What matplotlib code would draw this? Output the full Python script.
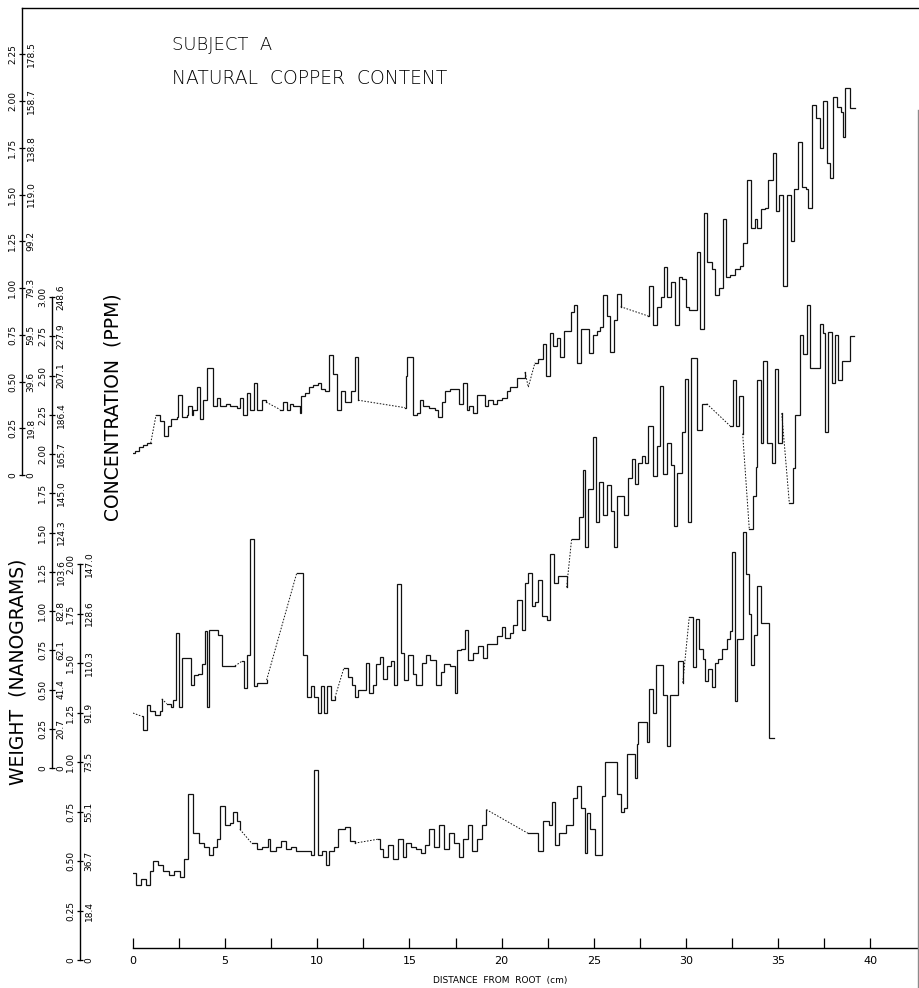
import matplotlib.pyplot as plt
from matplotlib.lines import Line2D

plt.rcParams['font.family'] = ['DejaVu Sans']

# Hair copper profiles, subject A.
# Each trace is a run of steps: *_x = distance from root where a segment starts (cm),
# *_w = copper weight of that segment (ng); *_end closes the last step.
top_x = [0.00, 0.11, 0.34, 0.56, 0.74, 0.96, 1.25, 1.46, 1.70, 1.88, 2.06, 2.40, 2.46, 2.64,
         2.91, 3.00, 3.18, 3.27, 3.46, 3.64, 3.81, 4.03, 4.36, 4.54, 4.72, 5.05, 5.26, 5.63,
         5.81, 5.98, 6.20, 6.35, 6.58, 6.74, 6.98, 7.22, 7.98, 8.16, 8.34, 8.52, 8.70, 9.06,
         9.12, 9.33, 9.57, 9.78, 10.05, 10.20, 10.42, 10.65, 10.87, 11.05, 11.27, 11.50, 11.81,
         12.05, 12.22, 14.76, 14.81, 14.89, 15.18, 15.39, 15.57, 15.75, 16.08, 16.39, 16.57,
         16.75, 16.93, 17.20, 17.70, 17.92, 18.11, 18.25, 18.43, 18.68, 19.10, 19.28, 19.52,
         19.73, 20.01, 20.28, 20.46, 20.82, 21.27, 21.45, 21.81, 21.99, 22.23, 22.41, 22.63,
         22.81, 22.99, 23.17, 23.39, 23.75, 23.93, 24.11, 24.29, 24.76, 24.94, 25.16, 25.34,
         25.52, 25.74, 25.88, 26.10, 26.25, 26.46, 27.96, 28.01, 28.23, 28.45, 28.63, 28.81,
         28.99, 29.18, 29.41, 29.63, 29.80, 29.99, 30.18, 30.59, 30.76, 30.98, 31.16, 31.40,
         31.58, 31.81, 32.00, 32.18, 32.40, 32.66, 32.93, 33.11, 33.33, 33.52, 33.75, 33.87,
         34.06, 34.29, 34.47, 34.71, 34.89, 35.07, 35.28, 35.50, 35.69, 35.87, 36.10, 36.28,
         36.52, 36.64, 36.83, 37.06, 37.28, 37.42, 37.64, 37.82, 37.96, 38.18, 38.40, 38.51,
         38.63, 38.90]
top_w = [0.12, 0.13, 0.15, 0.16, 0.17, 0.17, 0.32, 0.29, 0.21, 0.26, 0.30, 0.31, 0.43, 0.31,
         0.32, 0.37, 0.32, 0.35, 0.47, 0.30, 0.40, 0.57, 0.37, 0.41, 0.37, 0.38, 0.37, 0.36,
         0.41, 0.32, 0.44, 0.35, 0.49, 0.35, 0.40, 0.39, 0.35, 0.39, 0.35, 0.38, 0.37, 0.33,
         0.42, 0.44, 0.47, 0.48, 0.49, 0.46, 0.45, 0.64, 0.54, 0.35, 0.45, 0.39, 0.45,
         0.63, 0.40, 0.36, 0.53, 0.63, 0.32, 0.33, 0.40, 0.37, 0.36, 0.35, 0.31,
         0.39, 0.45, 0.46, 0.38, 0.49, 0.35, 0.37, 0.33, 0.43, 0.37, 0.40, 0.38,
         0.40, 0.41, 0.45, 0.47, 0.52, 0.55, 0.47, 0.60, 0.62, 0.70, 0.53, 0.76,
         0.69, 0.73, 0.63, 0.77, 0.87, 0.91, 0.60, 0.78, 0.65, 0.75, 0.77, 0.79,
         0.96, 0.85, 0.66, 0.83, 0.97, 0.90, 0.85, 1.01, 0.80, 0.90, 0.95, 1.11,
         0.95, 1.03, 0.80, 1.06, 1.05, 0.90, 0.88, 1.19, 0.78, 1.40, 1.14, 1.10,
         0.96, 1.00, 1.37, 1.06, 1.07, 1.10, 1.12, 1.24, 1.58, 1.32, 1.37, 1.32,
         1.42, 1.43, 1.58, 1.72, 1.41, 1.50, 1.01, 1.50, 1.25, 1.53, 1.78, 1.54,
         1.53, 1.43, 1.98, 1.91, 1.75, 2.00, 1.67, 1.59, 2.02, 1.97, 1.94, 1.81,
         2.07, 1.96]
top_end = 39.17
top_dotted = [0.96, 7.22, 12.22, 21.27, 21.45, 26.46]

mid_x = [0.00, 0.47, 0.53, 0.74, 0.92, 1.19, 1.46, 1.56, 1.83, 2.05, 2.15, 2.32, 2.51, 2.64,
         3.13, 3.31, 3.54, 3.73, 3.91, 4.03, 4.14, 4.61, 4.81, 5.53, 5.91, 6.02, 6.17, 6.35,
         6.57, 6.71, 7.25, 8.88, 9.24, 9.46, 9.64, 9.82, 10.05, 10.18, 10.36, 10.51, 10.73,
         10.96, 11.45, 11.68, 11.87, 12.05, 12.22, 12.64, 12.82, 13.01, 13.18, 13.40, 13.58,
         13.77, 13.98, 14.16, 14.31, 14.53, 14.70, 14.94, 15.18, 15.36, 15.66, 15.90, 16.11,
         16.44, 16.70, 16.87, 17.20, 17.47, 17.60, 17.78, 18.01, 18.19, 18.46, 18.74, 18.97,
         19.19, 19.73, 20.01, 20.18, 20.46, 20.63, 20.82, 21.09, 21.27, 21.45, 21.63, 21.81,
         21.99, 22.18, 22.45, 22.63, 22.84, 23.08, 23.53, 23.80, 24.22, 24.40, 24.52, 24.70,
         24.94, 25.12, 25.30, 25.52, 25.70, 25.92, 26.10, 26.28, 26.64, 26.87, 27.06, 27.24,
         27.42, 27.60, 27.78, 27.96, 28.23, 28.42, 28.59, 28.77, 28.99, 29.18, 29.35, 29.53,
         29.77, 29.95, 30.13, 30.26, 30.59, 30.86, 31.13, 32.39, 32.54, 32.72, 32.90, 33.08,
         33.44, 33.62, 33.80, 33.87, 34.06, 34.20, 34.42, 34.65, 34.83, 35.01, 35.20, 35.61,
         35.79, 35.92, 36.19, 36.37, 36.55, 36.73, 37.28, 37.42, 37.55, 37.73, 37.91, 38.09,
         38.27, 38.45, 38.91]
mid_w = [0.35, 0.33, 0.24, 0.40, 0.36, 0.34, 0.36, 0.44, 0.41, 0.39, 0.43, 0.86, 0.39, 0.70,
         0.53, 0.59, 0.60, 0.66, 0.87, 0.39, 0.88, 0.85, 0.65, 0.65, 0.68, 0.51, 0.72, 1.46,
         0.52, 0.54, 0.56, 1.24, 0.72, 0.45, 0.52, 0.45, 0.35, 0.52, 0.35, 0.52, 0.43,
         0.45, 0.64, 0.58, 0.53, 0.45, 0.50, 0.67, 0.48, 0.53, 0.66, 0.71, 0.57,
         0.65, 0.68, 0.53, 1.17, 0.73, 0.56, 0.72, 0.60, 0.53, 0.67, 0.72, 0.69,
         0.53, 0.61, 0.66, 0.65, 0.48, 0.75, 0.76, 0.88, 0.69, 0.73, 0.78, 0.70,
         0.79, 0.84, 0.90, 0.83, 0.86, 0.91, 1.07, 0.88, 1.18, 1.24, 1.03, 1.06,
         1.20, 0.97, 0.94, 1.36, 1.18, 1.22, 1.15, 1.46, 1.60, 1.90, 1.41, 1.78,
         2.11, 1.57, 1.82, 1.61, 1.80, 1.64, 1.41, 1.73, 1.61, 1.85, 1.97, 1.81,
         1.94, 1.99, 1.94, 2.18, 1.86, 2.05, 2.43, 1.87, 2.07, 1.93, 1.54, 1.88,
         2.14, 2.48, 1.57, 2.61, 2.15, 2.32, 2.32, 2.18, 2.47, 2.18, 2.37, 2.13,
         1.52, 1.73, 1.92, 2.47, 2.07, 2.59, 2.07, 1.94, 2.54, 2.07, 2.26, 1.69,
         1.91, 2.25, 2.76, 2.64, 2.95, 2.55, 2.83, 2.77, 2.14, 2.78, 2.45, 2.76,
         2.47, 2.59, 2.75]
mid_end = 39.13
mid_dotted = [0.00, 1.56, 5.53, 7.25, 10.96, 23.53, 31.13, 33.08, 35.20]

bot_x = [0.00, 0.18, 0.46, 0.73, 0.90, 1.10, 1.37, 1.65, 1.93, 2.20, 2.56, 2.76, 2.98, 3.26,
         3.58, 3.85, 4.14, 4.34, 4.56, 4.72, 4.97, 5.25, 5.43, 5.64, 5.80, 6.44, 6.71, 6.99,
         7.33, 7.46, 7.74, 8.01, 8.29, 8.57, 8.84, 9.67, 9.82, 10.04, 10.23, 10.45, 10.65,
         10.92, 11.15, 11.48, 11.75, 12.03, 13.29, 13.41, 13.55, 13.83, 14.11, 14.38, 14.65,
         14.80, 15.07, 15.35, 15.63, 15.84, 16.04, 16.32, 16.60, 16.87, 17.15, 17.43, 17.70,
         17.90, 18.18, 18.39, 18.66, 18.95, 19.17, 21.43, 22.00, 22.27, 22.55, 22.72, 22.90,
         23.10, 23.52, 23.86, 24.11, 24.29, 24.54, 24.65, 24.80, 25.07, 25.43, 25.61, 26.25,
         26.46, 26.64, 26.82, 27.24, 27.36, 27.42, 27.87, 28.01, 28.20, 28.38, 28.77, 28.96,
         29.14, 29.59, 29.83, 30.18, 30.36, 30.55, 30.73, 30.91, 31.04, 31.22, 31.40, 31.58,
         31.76, 31.94, 32.25, 32.39, 32.48, 32.66, 32.79, 33.08, 33.26, 33.44, 33.52, 33.70,
         33.87, 34.06, 34.53]
bot_w = [0.44, 0.38, 0.41, 0.38, 0.45, 0.50, 0.48, 0.45, 0.43, 0.45, 0.42, 0.51, 0.84, 0.64,
         0.59, 0.57, 0.53, 0.57, 0.61, 0.78, 0.68, 0.69, 0.75, 0.70, 0.66, 0.59, 0.56, 0.57,
         0.61, 0.55, 0.57, 0.60, 0.56, 0.57, 0.55, 0.53, 0.96, 0.53, 0.55, 0.48, 0.55,
         0.57, 0.66, 0.67, 0.60, 0.59, 0.61, 0.56, 0.52, 0.58, 0.51, 0.61, 0.52,
         0.59, 0.57, 0.56, 0.54, 0.58, 0.66, 0.57, 0.68, 0.56, 0.64, 0.59, 0.52,
         0.61, 0.68, 0.55, 0.61, 0.68, 0.76, 0.64, 0.55, 0.70, 0.68, 0.80, 0.58,
         0.64, 0.68, 0.82, 0.88, 0.77, 0.54, 0.74, 0.66, 0.53, 0.83, 1.00, 0.84,
         0.75, 0.77, 1.04, 0.92, 1.09, 1.20, 1.10, 1.37, 1.25, 1.49, 1.34, 1.08,
         1.34, 1.51, 1.40, 1.73, 1.48, 1.72, 1.57, 1.52, 1.41, 1.47, 1.38, 1.50,
         1.52, 1.57, 1.62, 1.66, 2.06, 1.31, 1.62, 2.16, 1.95, 1.75, 1.49, 1.64,
         1.89, 1.70, 1.12]
bot_end = 34.80
bot_dotted = [5.80, 12.03, 19.17, 29.83]

# left scales: weight (ng) with the matching concentration (ppm)
top_ng = [0, 0.25, 0.50, 0.75, 1.00, 1.25, 1.50, 1.75, 2.00, 2.25]
top_ng_labels = ['0', '0.25', '0.50', '0.75', '1.00', '1.25', '1.50', '1.75', '2.00', '2.25']
top_ppm_labels = ['0', '19.8', '39.6', '59.5', '79.3', '99.2', '119.0', '138.8', '158.7', '178.5']

mid_ng = [0, 0.25, 0.50, 0.75, 1.00, 1.25, 1.50, 1.75, 2.00, 2.25, 2.50, 2.75, 3.00]
mid_ng_labels = ['0', '0.25', '0.50', '0.75', '1.00', '1.25', '1.50', '1.75', '2.00', '2.25',
                 '2.50', '2.75', '3.00']
mid_ppm_labels = ['0', '20.7', '41.4', '62.1', '82.8', '103.6', '124.3', '145.0', '165.7',
                  '186.4', '207.1', '227.9', '248.6']

bot_ng = [0, 0.25, 0.50, 0.75, 1.00, 1.25, 1.50, 1.75, 2.00]
bot_ng_labels = ['0', '0.25', '0.50', '0.75', '1.00', '1.25', '1.50', '1.75', '2.00']
bot_ppm_labels = ['0', '18.4', '36.7', '55.1', '73.5', '91.9', '110.3', '128.6', '147.0']

dist_ticks = [0, 5, 10, 15, 20, 25, 30, 35, 40]

# ---- layout (pixels of a 920 x 988 canvas) ----
W, H = 920, 988
LEFT, RIGHT, BOTTOM, TOP = 133, 918, 980, 8
PX_PER_CM = 18.43
fig = plt.figure(figsize=(W / 100, H / 100), dpi=100)
rect = [LEFT / W, 1 - BOTTOM / H, (RIGHT - LEFT) / W, (BOTTOM - TOP) / H]
xmax = (RIGHT - LEFT) / PX_PER_CM


def ylim_for(zero_px, px_per_ng):
    return (zero_px - BOTTOM) / px_per_ng, (zero_px - TOP) / px_per_ng


def trace_paths(xs, ws, x_end, dotted):
    dotted_idx = {xs.index(v) for v in dotted}
    nan = float('nan')
    sx, sy, dx, dy = [xs[0]], [ws[0]], [], []
    n = len(xs)
    for i in range(n):
        nxt = xs[i + 1] if i + 1 < n else x_end
        if i in dotted_idx:
            dx += [xs[i], xs[i + 1], nan]
            dy += [ws[i], ws[i + 1], nan]
            sx += [nan, xs[i + 1]]
            sy += [nan, ws[i + 1]]
        else:
            sx.append(nxt)
            sy.append(ws[i])
            if i + 1 < n:
                sx.append(nxt)
                sy.append(ws[i + 1])
    return sx, sy, dx, dy


def weight_scale(a, spine_px, ng, ng_labels, ppm_labels, upper=None):
    pos = (spine_px - LEFT) / (RIGHT - LEFT)
    for s in a.spines.values():
        s.set_visible(False)
    sp = a.spines['left']
    sp.set_visible(True)
    sp.set_position(('axes', pos))
    sp.set_bounds(ng[0], ng[-1] if upper is None else upper)
    sp.set_linewidth(1.0)
    a.yaxis.set_ticks_position('left')
    a.set_yticks(ng)
    a.set_yticklabels(ng_labels, rotation=90, va='center', fontsize=6.5)
    a.tick_params(axis='y', direction='inout', length=5, width=0.9, pad=0.8)

    tw = a.twinx()
    tw.set_ylim(a.get_ylim())
    for s in tw.spines.values():
        s.set_visible(False)
    tw.spines['right'].set_position(('axes', pos))
    tw.set_yticks(ng)
    tw.set_yticklabels(ppm_labels, rotation=90, va='center', ha='left', fontsize=6.5)
    tw.tick_params(axis='y', length=0, pad=3.3)


def draw_trace(a, xs, ws, x_end, dotted):
    sx, sy, dx, dy = trace_paths(xs, ws, x_end, dotted)
    a.plot(sx, sy, color='#111111', lw=0.9, solid_joinstyle='miter')
    a.plot(dx, dy, color='#111111', lw=0.7, ls=(0, (1.6, 1.6)))


ax = fig.add_axes(rect)
ax_mid = fig.add_axes(rect, sharex=ax)
ax_bot = fig.add_axes(rect, sharex=ax)
ax.set_xlim(0, xmax)

ax.set_ylim(*ylim_for(475, 187))
ax_mid.set_ylim(*ylim_for(768, 157))
ax_bot.set_ylim(*ylim_for(960, 198))

for a in (ax, ax_mid, ax_bot):
    a.patch.set_visible(False)

draw_trace(ax, top_x, top_w, top_end, top_dotted)
draw_trace(ax_mid, mid_x, mid_w, mid_end, mid_dotted)
draw_trace(ax_bot, bot_x, bot_w, bot_end, bot_dotted)

weight_scale(ax, 22, top_ng, top_ng_labels, top_ppm_labels, upper=ax.get_ylim()[1])
weight_scale(ax_mid, 52, mid_ng, mid_ng_labels, mid_ppm_labels)
weight_scale(ax_bot, 80, bot_ng, bot_ng_labels, bot_ppm_labels)
ax_mid.xaxis.set_visible(False)
ax_bot.xaxis.set_visible(False)

# distance axis
xs_spine = ax.spines['bottom']
xs_spine.set_visible(True)
xs_spine.set_position(('axes', (BOTTOM - 948) / (BOTTOM - TOP)))
xs_spine.set_bounds(0, xmax)
xs_spine.set_linewidth(1.0)
ax.set_xticks(dist_ticks)
ax.set_xticks([t + 2.5 for t in dist_ticks[:-1]], minor=True)
ax.set_xticklabels([str(t) for t in dist_ticks], fontsize=8)
ax.tick_params(axis='x', which='both', direction='in', length=7, width=0.9, pad=6)

# frame lines
fig.add_artist(Line2D([22 / W, 1], [1 - TOP / H] * 2, color='k', lw=1.0))
fig.add_artist(Line2D([RIGHT / W] * 2, [0, 1 - 110 / H], color='0.55', lw=1.0))

fig.text(172 / W, 1 - 45 / H, 'SUBJECT  A', fontsize=13, fontweight='light',
         ha='left', va='center')
fig.text(172 / W, 1 - 78 / H, 'NATURAL  COPPER  CONTENT', fontsize=13.5, fontweight='light',
         ha='left', va='center')
fig.text(113 / W, 1 - 407 / H, 'CONCENTRATION  (PPM)', rotation=90, fontsize=13.5,
         ha='center', va='center')
fig.text(18 / W, 1 - 672 / H, 'WEIGHT  (NANOGRAMS)', rotation=90, fontsize=13.5,
         ha='center', va='center')
fig.text(500 / W, 1 - 980 / H, 'DISTANCE  FROM  ROOT  (cm)', fontsize=6.5,
         ha='center', va='center')

fig.savefig('out.png', dpi=100)
